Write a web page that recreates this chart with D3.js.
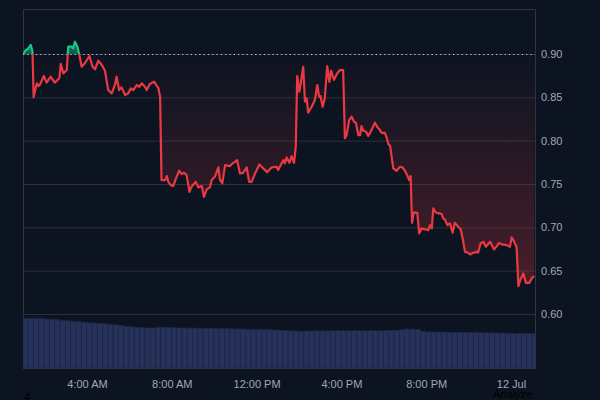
<!DOCTYPE html>
<html>
<head>
<meta charset="utf-8">
<script src="https://cdn.jsdelivr.net/npm/d3@7/dist/d3.min.js"></script>
<style>
  html, body { margin: 0; padding: 0; background: #0d1421; }
  svg { display: block; }
</style>
</head>
<body>
<svg id="chart" width="600" height="400"></svg>
<script>
// ---- DATA ----
// minutes after 00:00 on 11 Jul (UTC)
const priceMinutes = [60,67,73,81,86,89,98,103,107,118,126,137,149,162,166,173,183,187,197,201,206,213,218,225,234,247,256,263,272,282,291,300,310,319,324,331,338,348,357,364,371,381,388,395,404,409,418,430,442,447,451,461,466,470,477,484,492,501,508,515,522,530,536,548,555,565,571,579,588,593,602,612,616,623,631,645,652,659,665,673,682,692,699,706,715,728,739,750,763,777,781,796,800,805,813,819,826,831,835,841,845,852,857,862,866,876,885,892,897,901,907,913,920,926,931,939,947,956,965,970,975,982,989,996,1001,1008,1013,1017,1022,1030,1036,1043,1049,1055,1062,1069,1074,1083,1088,1093,1098,1107,1116,1126,1133,1140,1146,1152,1156,1160,1165,1175,1180,1187,1197,1206,1211,1216,1220,1228,1237,1244,1248,1253,1260,1267,1275,1281,1291,1298,1305,1310,1319,1324,1333,1343,1347,1354,1362,1369,1381,1392,1400,1406,1414,1428,1437,1442,1448,1456,1461,1467,1475,1482,1492,1499,1506];
const prices = [0.9000,0.9046,0.9058,0.9104,0.9023,0.8500,0.8662,0.8631,0.8648,0.8746,0.8669,0.8738,0.8669,0.8723,0.8885,0.8777,0.8815,0.9084,0.9084,0.9066,0.9142,0.9084,0.9000,0.8853,0.8893,0.8977,0.8853,0.8823,0.8923,0.8873,0.8807,0.8584,0.8546,0.8642,0.8738,0.8584,0.8615,0.8527,0.8546,0.8604,0.8584,0.8642,0.8622,0.8662,0.8622,0.8584,0.8654,0.8680,0.8607,0.8507,0.7545,0.7545,0.7591,0.7525,0.7487,0.7476,0.7565,0.7653,0.7614,0.7629,0.7603,0.7410,0.7468,0.7525,0.7461,0.7476,0.7352,0.7438,0.7461,0.7545,0.7583,0.7692,0.7553,0.7507,0.7718,0.7707,0.7738,0.7756,0.7776,0.7622,0.7629,0.7692,0.7525,0.7525,0.7614,0.7726,0.7680,0.7637,0.7692,0.7699,0.7661,0.7776,0.7738,0.7807,0.7745,0.7822,0.7745,0.7930,0.8746,0.8565,0.8662,0.8853,0.8449,0.8488,0.8322,0.8391,0.8469,0.8642,0.8507,0.8515,0.8391,0.8488,0.8861,0.8680,0.8807,0.8700,0.8769,0.8815,0.8815,0.8027,0.8065,0.8238,0.8276,0.8218,0.8207,0.8065,0.8065,0.8169,0.8114,0.8103,0.8053,0.8103,0.8154,0.8207,0.8154,0.8122,0.8091,0.8091,0.8038,0.7961,0.7938,0.7680,0.7653,0.7699,0.7692,0.7653,0.7603,0.7545,0.7591,0.7052,0.7172,0.7168,0.6930,0.6987,0.6976,0.6968,0.7025,0.6987,0.7218,0.7168,0.7161,0.7152,0.7103,0.7091,0.7025,0.7045,0.6937,0.7052,0.7006,0.6976,0.6833,0.6717,0.6706,0.6687,0.6706,0.6717,0.6710,0.6814,0.6833,0.6775,0.6833,0.6745,0.6783,0.6821,0.6803,0.6795,0.6775,0.6883,0.6844,0.6768,0.6321,0.6398,0.6468,0.6359,0.6359,0.6413,0.6437];
const baselinePrice = 0.90;

// volume (millions), one bar per 15 minutes starting 00:59
const volumes = [4.97,4.96,4.95,4.93,4.90,4.86,4.82,4.76,4.72,4.68,4.63,4.58,4.53,4.50,4.46,4.41,4.36,4.30,4.24,4.18,4.12,4.07,4.03,4.00,4.00,4.05,4.07,4.06,4.02,4.00,4.00,3.99,3.99,3.98,3.97,3.96,3.94,3.93,3.93,3.92,3.91,3.90,3.88,3.87,3.86,3.85,3.83,3.80,3.78,3.75,3.71,3.69,3.68,3.69,3.70,3.72,3.72,3.71,3.73,3.73,3.73,3.73,3.73,3.73,3.73,3.73,3.73,3.73,3.73,3.74,3.76,3.83,3.90,3.89,3.85,3.65,3.60,3.60,3.59,3.59,3.58,3.57,3.56,3.55,3.54,3.53,3.52,3.52,3.51,3.50,3.49,3.47,3.46,3.45,3.45,3.44,3.43];

const priceTicks = [0.60,0.65,0.70,0.75,0.80,0.85,0.90];
const timeTickHours = [4,8,12,16,20,24];
const timeTickLabels = ["4:00 AM","8:00 AM","12:00 PM","4:00 PM","8:00 PM","12 Jul"];

// ---- SETUP ----
const base = Date.UTC(2024,6,11);
const toDate = m => new Date(base + m*60000);
const startMin = 59, endMin = 1508;
const L = 23, R = 535, T = 9, B = 368;

const svg = d3.select("#chart");
const x = d3.scaleUtc().domain([toDate(startMin), toDate(endMin)]).range([L, R]);
const y = d3.scaleLinear().domain([0.60, 0.90]).range([314, 54]);
const yv = d3.scaleLinear().domain([0, 10]).range([B, B-100]);

const data = priceMinutes.map((m,i) => ({t: toDate(m), p: prices[i]}));
const by = y(baselinePrice);

const defs = svg.append("defs");
defs.append("clipPath").attr("id","plot").append("rect")
  .attr("x",L).attr("y",T).attr("width",R-L).attr("height",B-T);
defs.append("clipPath").attr("id","above").append("rect")
  .attr("x",L).attr("y",T).attr("width",R-L).attr("height",by-T);
defs.append("clipPath").attr("id","below").append("rect")
  .attr("x",L).attr("y",by).attr("width",R-L).attr("height",B-by);

const gr = defs.append("linearGradient").attr("id","redFill")
  .attr("gradientUnits","userSpaceOnUse").attr("x1",0).attr("x2",0)
  .attr("y1",by).attr("y2",y(0.63));
gr.append("stop").attr("offset","0%").attr("stop-color","#ea3943").attr("stop-opacity",0);
gr.append("stop").attr("offset","100%").attr("stop-color","#ea3943").attr("stop-opacity",0.27);

const gg = defs.append("linearGradient").attr("id","greenFill")
  .attr("gradientUnits","userSpaceOnUse").attr("x1",0).attr("x2",0)
  .attr("y1",y(0.915)).attr("y2",by);
gg.append("stop").attr("offset","0%").attr("stop-color","#16c784").attr("stop-opacity",0.6);
gg.append("stop").attr("offset","100%").attr("stop-color","#16c784").attr("stop-opacity",0.4);

// grid lines
svg.append("g").selectAll("line").data(priceTicks).join("line")
  .attr("x1",L).attr("x2",R)
  .attr("y1",d=>y(d)+0.5).attr("y2",d=>y(d)+0.5)
  .attr("stroke","#2b2f3b").attr("stroke-width",1);

// frame
svg.append("path")
  .attr("d",`M${L+0.5},${B+0.5}V${T+0.5}H${R+0.5}V${B+0.5}`)
  .attr("fill","none").attr("stroke","#2f3440").attr("stroke-width",1);

// volume bars
const vg = svg.append("g").attr("clip-path","url(#plot)");
vg.selectAll("rect").data(volumes).join("rect")
  .attr("x",(d,i)=>x(toDate(startMin+15*i)))
  .attr("width",(d,i)=>x(toDate(startMin+15*(i+1)))-x(toDate(startMin+15*i)))
  .attr("y",d=>yv(d))
  .attr("height",d=>B-yv(d))
  .attr("fill","#26325a")
  .attr("stroke","#1d2645").attr("stroke-width",0.7);
svg.append("line").attr("x1",L).attr("x2",R+1).attr("y1",B+0.5).attr("y2",B+0.5)
  .attr("stroke","#2f3440");

// areas
const area = d3.area().x(d=>x(d.t)).y0(by).y1(d=>y(d.p));
const line = d3.line().x(d=>x(d.t)).y(d=>y(d.p));

svg.append("path").datum(data).attr("d",area)
  .attr("fill","url(#redFill)").attr("clip-path","url(#below)");
svg.append("path").datum(data).attr("d",area)
  .attr("fill","url(#greenFill)").attr("clip-path","url(#above)");

// baseline dotted
svg.append("line").attr("x1",L).attr("x2",R).attr("y1",by+0.5).attr("y2",by+0.5)
  .attr("stroke","#c5cad6").attr("stroke-width",1.2).attr("stroke-dasharray","1.3 3");

// lines
svg.append("path").datum(data).attr("d",line)
  .attr("fill","none").attr("stroke","#ea3943").attr("stroke-width",2.2)
  .attr("stroke-linejoin","round").attr("clip-path","url(#below)");
svg.append("path").datum(data).attr("d",line)
  .attr("fill","none").attr("stroke","#16c784").attr("stroke-width",2.2)
  .attr("stroke-linejoin","round").attr("clip-path","url(#above)");

// axes
const fontFam = "'Liberation Sans', Arial, sans-serif";
const xAxis = d3.axisBottom(x)
  .tickValues(timeTickHours.map(h=>toDate(h*60)))
  .tickFormat((d,i)=>timeTickLabels[i])
  .tickSize(0).tickPadding(12);
const gx = svg.append("g").attr("transform",`translate(0,${B})`).call(xAxis);
gx.select(".domain").remove();
gx.selectAll("text").attr("fill","#a1a7bb").style("font-family",fontFam).style("font-size","11px");

const yAxis = d3.axisRight(y).tickValues(priceTicks).tickFormat(d3.format(".2f"))
  .tickSize(0).tickPadding(6);
const gy = svg.append("g").attr("transform",`translate(${R},0)`).call(yAxis);
gy.select(".domain").remove();
gy.selectAll("text").attr("fill","#a1a7bb").style("font-family",fontFam).style("font-size","11px");

// dim overlay texts
svg.append("text").attr("x",24).attr("y",401).text("4")
  .attr("fill","#000").style("font-family",fontFam).style("font-size","11px");
svg.append("text").attr("x",493).attr("y",398).text("Analyze")
  .attr("fill","#000").style("font-family",fontFam).style("font-size","11px");
</script>
</body>
</html>
